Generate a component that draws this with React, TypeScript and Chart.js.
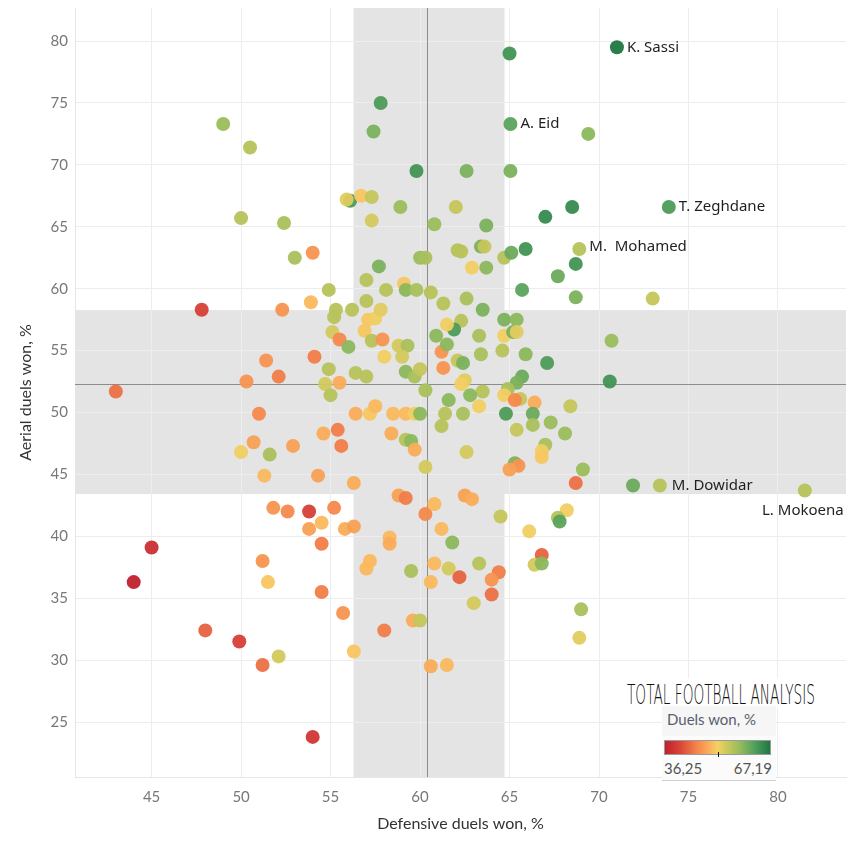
import React, { useEffect, useRef } from "react";
import { Chart, registerables } from "chart.js";

Chart.register(...registerables);

// Named players (first entries of the value arrays)
const playerNames = ["K. Sassi", "A. Eid", "T. Zeghdane", "M.  Mohamed", "M. Dowidar", "L. Mokoena"];

// Defensive duels won, %
const defensiveWon = [
  71.0, 65.05, 73.9, 68.9, 73.4, 81.5,
  65.0, 57.8, 49.0, 69.4, 57.4, 50.5, 59.8, 62.6, 65.05, 56.1, 55.9, 56.7, 57.3, 58.9,
  57.3, 50.0, 52.4, 60.8, 62.0, 63.7, 67.0, 68.5, 53.0, 54.0, 60.0, 60.3, 62.1, 62.3,
  63.4, 63.6, 64.7, 65.1, 65.9, 68.7, 67.7, 65.7, 68.7, 73.0, 62.9, 63.7, 62.6, 63.5,
  62.3, 64.7, 65.4, 64.7, 65.2, 65.4, 63.3, 70.7, 63.4, 64.6, 65.9, 67.1, 62.1, 62.4,
  65.7, 65.4, 70.6, 62.5, 62.3, 64.9, 63.5, 62.8, 65.6, 64.7, 65.3, 66.4, 68.4, 63.3,
  64.8, 66.3, 62.4, 67.3, 66.3, 65.4, 68.1, 67.0, 66.8, 66.8, 62.6, 65.3, 65.5, 65.0,
  69.1, 68.7, 71.9, 62.5, 62.9, 68.2, 64.5, 66.1, 67.7, 67.8, 66.8, 66.4, 66.8, 63.3,
  64.4, 64.0, 62.2, 64.0, 63.0, 69.0, 68.9, 51.8, 52.6, 53.8, 55.2, 54.5, 53.8, 55.8,
  56.3, 54.5, 45.0, 44.0, 51.2, 51.5, 54.5, 55.7, 48.0, 49.9, 51.2, 52.1, 54.0, 56.3,
  58.0, 59.6, 60.0, 60.6, 61.5, 58.3, 58.3, 57.2, 57.0, 59.5, 60.8, 61.6, 60.6, 61.8,
  60.3, 61.2, 60.8, 58.8, 59.2, 47.8, 43.0, 52.3, 53.9, 51.4, 54.1, 50.3, 52.1, 54.9,
  55.3, 55.2, 56.2, 55.1, 55.5, 56.0, 54.9, 54.7, 55.5, 55.0, 56.4, 57.0, 57.0, 57.7,
  57.0, 58.1, 59.1, 59.2, 59.8, 60.6, 61.3, 57.1, 57.5, 57.8, 56.9, 57.3, 57.9, 58.8,
  59.3, 58.0, 59.0, 59.2, 59.7, 60.0, 60.3, 61.2, 61.3, 60.9, 61.5, 61.9, 61.5, 56.4,
  57.2, 57.5, 58.5, 59.2, 59.7, 60.0, 61.6, 61.4, 61.2, 51.0, 50.7, 50.0, 51.6, 52.9,
  51.3, 54.3, 56.3, 54.6, 55.4, 55.6, 58.4, 59.2, 59.5, 59.7, 60.3,
];

// Aerial duels won, %
const aerialWon = [
  79.5, 73.3, 66.6, 63.2, 44.1, 43.7,
  79.0, 75.0, 73.3, 72.5, 72.7, 71.4, 69.5, 69.5, 69.5, 67.1, 67.2, 67.5, 67.4, 66.6,
  65.5, 65.7, 65.3, 65.2, 66.6, 65.1, 65.8, 66.6, 62.5, 62.9, 62.5, 62.5, 63.1, 63.0,
  63.4, 63.4, 62.5, 62.9, 63.2, 62.0, 61.0, 59.9, 59.3, 59.2, 61.7, 61.7, 59.2, 58.3,
  57.4, 57.5, 57.5, 56.2, 56.5, 56.5, 56.2, 55.8, 54.7, 55.0, 54.7, 54.0, 54.2, 54.0,
  52.9, 52.4, 52.5, 52.6, 52.3, 51.9, 51.7, 51.4, 51.1, 51.4, 51.0, 50.8, 50.5, 50.5,
  49.9, 49.9, 49.9, 49.2, 49.0, 48.6, 48.3, 47.4, 46.9, 46.4, 46.8, 45.9, 45.7, 45.4,
  45.4, 44.3, 44.1, 43.3, 43.0, 42.1, 41.6, 40.4, 41.5, 41.2, 38.5, 37.7, 37.8, 37.8,
  37.1, 36.5, 36.7, 35.3, 34.6, 34.1, 31.8, 42.3, 42.0, 42.0, 42.3, 41.1, 40.6, 40.6,
  40.8, 39.4, 39.1, 36.3, 38.0, 36.3, 35.5, 33.8, 32.4, 31.5, 29.6, 30.3, 23.8, 30.7,
  32.4, 33.2, 33.2, 29.5, 29.6, 39.9, 39.4, 38.0, 37.4, 37.2, 37.8, 37.4, 36.3, 39.5,
  41.8, 40.6, 42.6, 43.3, 43.1, 58.3, 51.7, 58.3, 58.9, 54.2, 54.5, 52.5, 52.9, 59.9,
  58.3, 57.7, 58.3, 56.5, 55.9, 55.3, 53.5, 52.3, 52.4, 51.4, 53.2, 52.9, 60.7, 61.8,
  59.0, 59.9, 60.4, 59.9, 59.9, 59.7, 58.8, 57.5, 57.6, 58.3, 56.6, 55.8, 55.9, 55.4,
  55.4, 54.5, 54.5, 53.3, 52.9, 53.5, 51.8, 54.9, 53.6, 56.2, 55.5, 56.7, 57.1, 49.9,
  49.9, 50.5, 49.9, 49.9, 49.9, 49.9, 51.0, 49.9, 48.9, 49.9, 47.6, 46.8, 46.6, 47.3,
  44.9, 44.9, 44.3, 48.3, 48.6, 47.3, 48.3, 47.8, 47.7, 47.0, 45.6,
];

// Duels won, % (colour measure)
const duelsWon = [
  67.19, 62, 63, 56, 56, 56,
  64, 63, 58, 59, 60, 56, 64, 60, 60, 63, 53, 51, 55, 58,
  54, 56, 57, 58, 55, 60, 65, 65, 57, 47, 58, 57, 56, 56,
  60, 55, 56, 61, 64, 64, 61, 62, 60, 55, 52, 59, 57, 60,
  56, 60, 59, 52, 60, 53, 57, 58, 57, 56, 59, 63, 55, 60,
  61, 60, 64, 53, 52, 57, 56, 59, 55, 52, 46, 49, 55, 52,
  63, 61, 57, 58, 57, 55, 58, 57, 52, 51, 54, 60, 47, 48,
  58, 44, 61, 48, 49, 52, 55, 52, 56, 62, 43, 54, 59, 56,
  45, 47, 43, 44, 54, 57, 53, 47, 46, 40, 46, 50, 48, 49,
  48, 45, 38, 36.25, 47, 51, 45, 47, 43, 40, 44, 54, 39, 51,
  45, 49, 55, 49, 50, 50, 49, 50, 50, 57, 50, 54, 50, 59,
  46, 50, 50, 48, 45, 40, 44, 47, 50, 47, 45, 47, 45, 56,
  56, 56, 56, 54, 46, 59, 56, 54, 49, 56, 56, 56, 56, 60,
  56, 56, 51, 59, 57, 56, 56, 51, 52, 53, 51, 56, 47, 54,
  57, 52, 54, 59, 57, 55, 57, 47, 47, 59, 59, 63, 52, 49,
  51, 50, 50, 50, 52, 59, 59, 56, 56, 46, 48, 52, 57, 48,
  50, 48, 49, 49, 45, 45, 49, 56, 59, 49, 54,
];

const xTicks = [45, 50, 55, 60, 65, 70, 75, 80];
const yTicks = [25, 30, 35, 40, 45, 50, 55, 60, 65, 70, 75, 80];
const xRange = [40.72, 83.8];
const yRange = [20.56, 82.67];
const defensiveBand = [56.28, 64.72];
const aerialBand = [43.41, 58.27];
const defensiveRef = 60.37;
const aerialRef = 52.27;
const legendRange = [36.25, 67.19];
const legendLabels = ["36,25", "67,19"];

const colorStops: [number, string][] = [
  [0, "#c0202e"],
  [0.15, "#db4639"],
  [0.3, "#f4844a"],
  [0.43, "#fbb25a"],
  [0.5, "#f5d063"],
  [0.6, "#c8c75b"],
  [0.72, "#93bb5c"],
  [0.85, "#52a05d"],
  [1, "#1e7741"],
];

function hexToRgb(h: string) {
  return [parseInt(h.slice(1, 3), 16), parseInt(h.slice(3, 5), 16), parseInt(h.slice(5, 7), 16)];
}

function colorFor(v: number) {
  let t = (v - legendRange[0]) / (legendRange[1] - legendRange[0]);
  t = Math.max(0, Math.min(1, t));
  for (let i = 1; i < colorStops.length; i++) {
    const [t1, c1] = colorStops[i];
    const [t0, c0] = colorStops[i - 1];
    if (t <= t1) {
      const f = (t - t0) / (t1 - t0);
      const a = hexToRgb(c0);
      const b = hexToRgb(c1);
      const r = a.map((ch, k) => Math.round(ch + (b[k] - ch) * f));
      return `rgba(${r[0]},${r[1]},${r[2]},0.95)`;
    }
  }
  return colorStops[colorStops.length - 1][1];
}

const labelOffsets: Record<string, [number, number, CanvasTextAlign]> = {
  "K. Sassi": [10, 0, "left"],
  "A. Eid": [10, 0, "left"],
  "T. Zeghdane": [10, 0, "left"],
  "M.  Mohamed": [10, -2, "left"],
  "M. Dowidar": [12, 0, "left"],
  "L. Mokoena": [-2, 20, "center"],
};

const FONT = "Lato, 'Noto Sans', sans-serif";

const overlayPlugin = {
  id: "overlays",
  beforeDraw(chart: any) {
    const { ctx, chartArea: a, scales } = chart;
    const x = scales.x;
    const y = scales.y;
    ctx.save();
    ctx.fillStyle = "#e4e4e4";
    const x1 = x.getPixelForValue(defensiveBand[0]);
    const x2 = x.getPixelForValue(defensiveBand[1]);
    ctx.fillRect(x1, a.top, x2 - x1, a.bottom - a.top);
    const y1 = y.getPixelForValue(aerialBand[1]);
    const y2 = y.getPixelForValue(aerialBand[0]);
    ctx.fillRect(a.left, y1, a.right - a.left, y2 - y1);
    ctx.restore();
  },
  beforeDatasetsDraw(chart: any) {
    const { ctx, chartArea: a, scales } = chart;
    const px = Math.round(scales.x.getPixelForValue(defensiveRef)) + 0.5;
    const py = Math.round(scales.y.getPixelForValue(aerialRef)) + 0.5;
    ctx.save();
    ctx.strokeStyle = "#8c8c8c";
    ctx.lineWidth = 1;
    ctx.beginPath();
    ctx.moveTo(px, a.top);
    ctx.lineTo(px, a.bottom);
    ctx.moveTo(a.left, py);
    ctx.lineTo(a.right, py);
    ctx.stroke();
    ctx.restore();
  },
  afterDatasetsDraw(chart: any) {
    const { ctx, scales } = chart;
    ctx.save();
    ctx.font = `15px 'Noto Sans', sans-serif`;
    ctx.fillStyle = "#1f1f1f";
    ctx.textBaseline = "middle";
    playerNames.forEach((name, i) => {
      const px = scales.x.getPixelForValue(defensiveWon[i]);
      const py = scales.y.getPixelForValue(aerialWon[i]);
      const [dx, dy, align] = labelOffsets[name];
      ctx.textAlign = align;
      ctx.fillText(name, px + dx, py + dy);
    });
    ctx.restore();
  },
};

export default function App() {
  const canvasRef = useRef<HTMLCanvasElement | null>(null);

  useEffect(() => {
    if (!canvasRef.current) return;
    const points = defensiveWon.map((x, i) => ({ x, y: aerialWon[i] }));
    const colors = duelsWon.map(colorFor);
    const chart = new Chart(canvasRef.current, {
      type: "scatter",
      data: {
        datasets: [
          {
            data: points,
            backgroundColor: colors,
            borderWidth: 0,
            pointRadius: 7,
            pointHoverRadius: 7,
          },
        ],
      },
      options: {
        animation: false,
        responsive: false,
        events: [],
        layout: { autoPadding: false, padding: { top: 8, right: 3, left: 0, bottom: 0 } },
        plugins: { legend: { display: false }, tooltip: { enabled: false } },
        scales: {
          x: {
            type: "linear",
            min: xRange[0],
            max: xRange[1],
            afterBuildTicks: (s: any) => {
              s.ticks = xTicks.map((v) => ({ value: v }));
            },
            afterFit: (s: any) => {
              s.height = 68;
              s.paddingLeft = 0;
              s.paddingRight = 0;
            },
            grid: { color: "#ededed", drawTicks: false, tickLength: 0 },
            border: { display: true, color: "#e6e6e6" },
            ticks: { padding: 11, color: "#777", font: { family: FONT, size: 15 } },
            title: {
              display: true,
              text: "Defensive duels won, %",
              color: "#333",
              font: { family: FONT, size: 16 },
              padding: { top: 0, bottom: 12 },
            },
          },
          y: {
            type: "linear",
            min: yRange[0],
            max: yRange[1],
            afterBuildTicks: (s: any) => {
              s.ticks = yTicks.map((v) => ({ value: v }));
            },
            afterFit: (s: any) => {
              s.width = 75;
              s.paddingTop = 0;
              s.paddingBottom = 0;
            },
            grid: { color: "#ededed", drawTicks: false, tickLength: 0 },
            border: { display: true, color: "#e6e6e6" },
            ticks: { padding: 7, color: "#777", font: { family: FONT, size: 15 } },
            title: {
              display: true,
              text: "Aerial duels won, %",
              color: "#333",
              font: { family: FONT, size: 16 },
              padding: { top: 16, bottom: 0 },
            },
          },
        },
      },
      plugins: [overlayPlugin],
    });
    return () => chart.destroy();
  }, []);

  const gradient = `linear-gradient(to right, ${colorStops
    .map(([t, c]) => `${c} ${(t * 100).toFixed(0)}%`)
    .join(", ")})`;

  return (
    <div style={{ position: "absolute", left: 0, top: 0, width: 849, height: 845, background: "#fff" }}>
      <canvas ref={canvasRef} width={849} height={845} style={{ display: "block" }} />
      <svg
        style={{ position: "absolute", left: 622, top: 678, width: 198, height: 30 }}
        width={198}
        height={30}
      >
        <rect x={0} y={0} width={198} height={30} fill="#fff" />
        <text
          x={5}
          y={26}
          textLength={188}
          lengthAdjust="spacingAndGlyphs"
          style={{ font: "300 27px 'DejaVu Sans', sans-serif", fill: "#111" }}
        >
          TOTAL FOOTBALL ANALYSIS
        </text>
      </svg>
      <div
        style={{
          position: "absolute",
          left: 662,
          top: 706,
          width: 114,
          height: 74,
          background: "#fbfbfb",
          borderBottom: "1px solid #cfcfcf",
          fontFamily: FONT,
        }}
      >
        <div
          style={{
            position: "absolute",
            left: 0,
            top: 0,
            width: 114,
            height: 30,
            background: "#f6f6f6",
          }}
        />
        <div
          style={{
            position: "absolute",
            left: 5,
            top: 4,
            fontSize: 15,
            color: "#56606c",
            whiteSpace: "nowrap",
            lineHeight: "18px",
          }}
        >
          Duels won, %
        </div>
        <div
          style={{
            position: "absolute",
            left: 2,
            top: 34,
            width: 105,
            height: 13,
            border: "1.5px solid #9a9a9a",
            background: gradient,
          }}
        />
        <div style={{ position: "absolute", left: 56, top: 46, width: 1, height: 5, background: "#111" }} />
        <div
          style={{
            position: "absolute",
            left: 2,
            top: 53,
            fontSize: 15,
            color: "#555",
            lineHeight: "18px",
          }}
        >
          {legendLabels[0]}
        </div>
        <div
          style={{
            position: "absolute",
            right: 4,
            top: 53,
            fontSize: 15,
            color: "#555",
            lineHeight: "18px",
          }}
        >
          {legendLabels[1]}
        </div>
      </div>
    </div>
  );
}
